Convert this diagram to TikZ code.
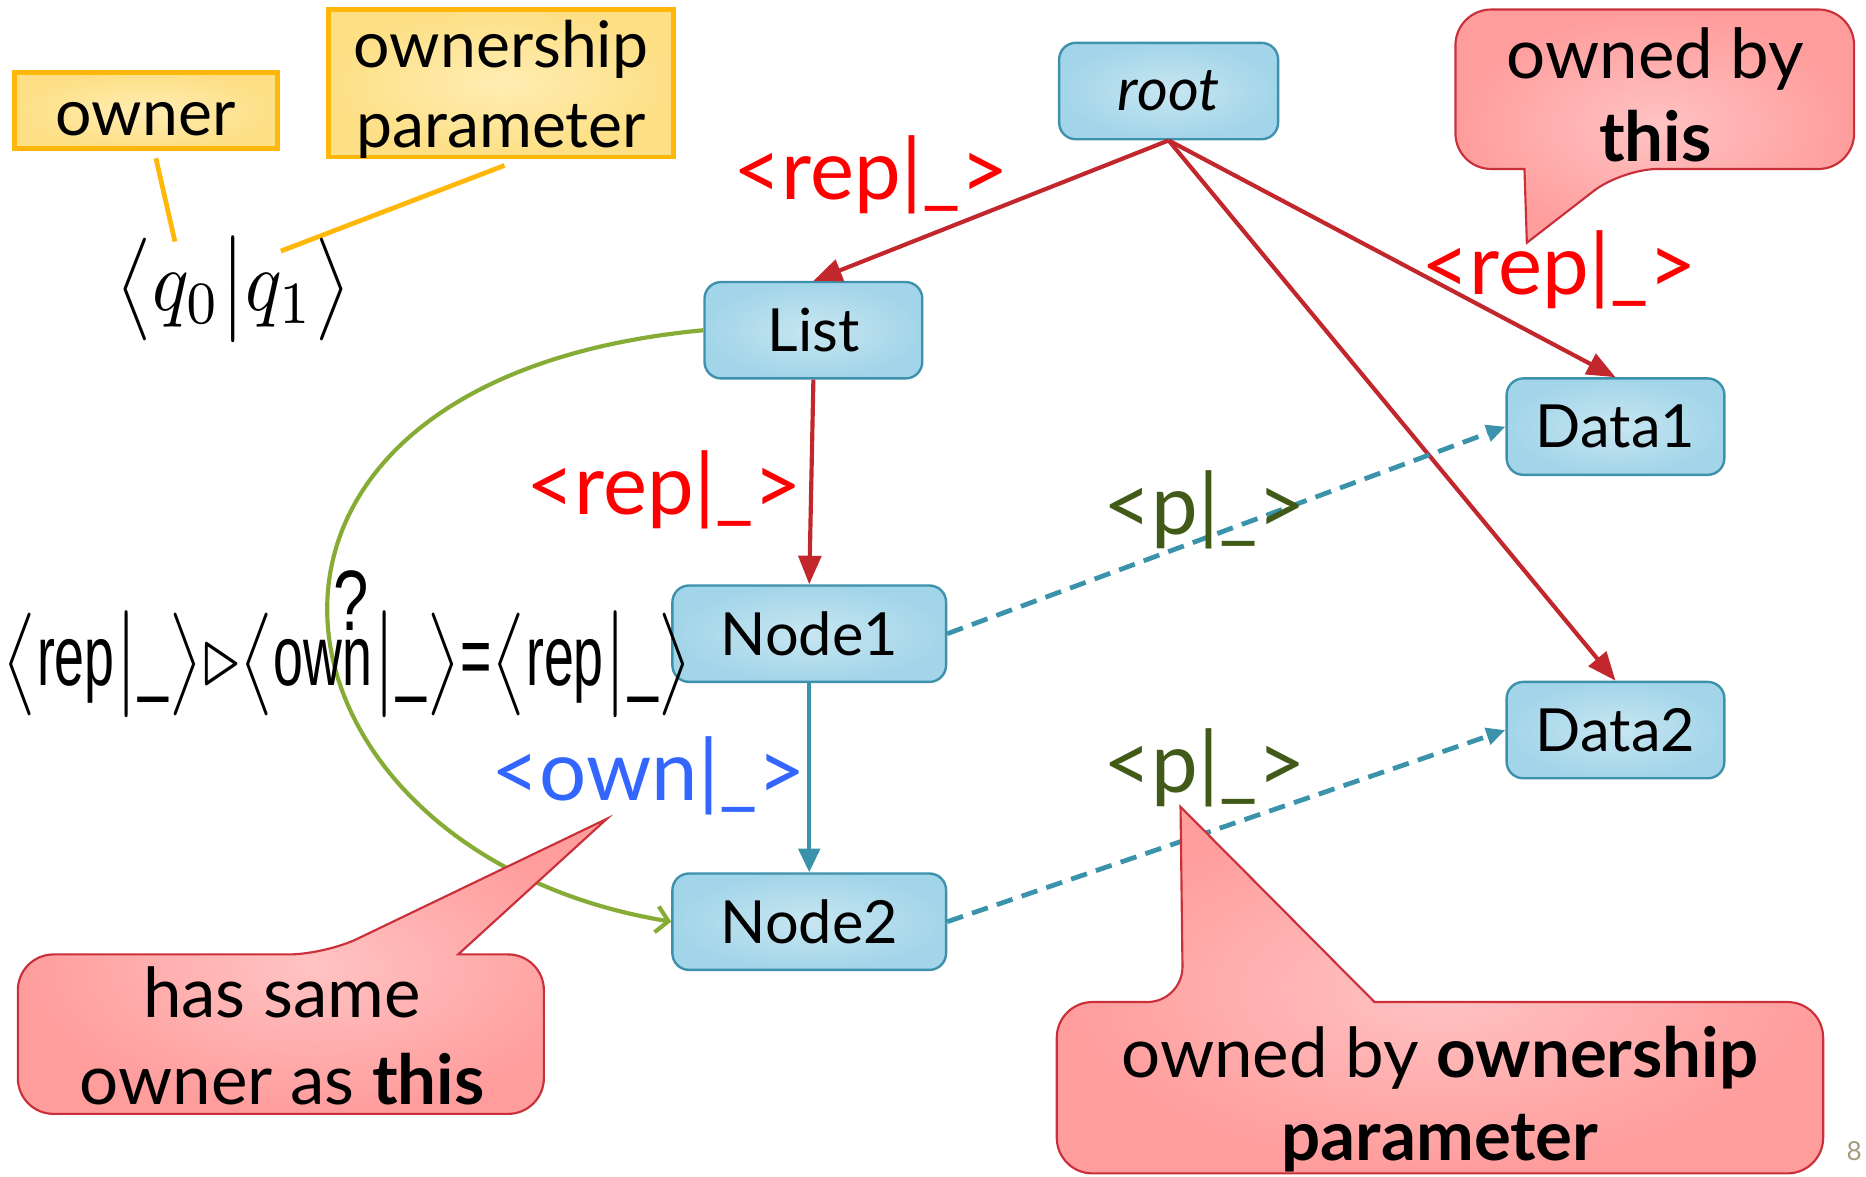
\documentclass[tikz,border=0pt]{standalone}
\usepackage{graphicx}
\usepackage[no-math]{fontspec}
\setmainfont{Lato}
\newfontfamily\narrowfont[FakeStretch=0.74]{Liberation Sans}
\usetikzlibrary{arrows.meta}
\definecolor{nodeborder}{HTML}{3E91AA}
\definecolor{nodein}{HTML}{C8E6F1}
\definecolor{nodeout}{HTML}{A2D5E9}
\definecolor{redline}{HTML}{C1272D}
\definecolor{tealline}{HTML}{3A93AB}
\definecolor{greenline}{HTML}{86AC36}
\definecolor{ybord}{HTML}{FFB80A}
\definecolor{yin}{HTML}{FFEDB3}
\definecolor{yout}{HTML}{FDDF85}
\definecolor{pinkin}{HTML}{FFC3C3}
\definecolor{pinkout}{HTML}{FF9C9C}
\definecolor{pinkbord}{HTML}{C9303A}
\definecolor{labred}{HTML}{FF0000}
\definecolor{labblue}{HTML}{3366FF}
\definecolor{labolive}{HTML}{425A17}
\definecolor{pagecol}{HTML}{A59B7F}
\tikzset{
  box/.style={draw=nodeborder, line width=1pt, rounded corners=7pt, inner color=nodein, outer color=nodeout,
    minimum height=40.5pt, font=\fontsize{25}{30}\selectfont, text=black},
  rededge/.style={draw=redline, line width=1.75pt, -{Triangle[length=12pt,width=9.5pt]}},
  tealedge/.style={draw=tealline, line width=1.75pt, -{Triangle[length=10pt,width=9pt]}},
  dashedge/.style={draw=tealline, line width=2pt, dash pattern=on 7pt off 4pt, -{Triangle[length=8pt,width=7pt]}},
  greenedge/.style={draw=greenline, line width=1.75pt, -{Straight Barb[length=5pt,width=11pt]}},
  lab/.style={font=\fontsize{35}{42}\selectfont, inner sep=0pt},
  ybox/.style={draw=ybord, line width=2pt, inner color=yin, outer color=yout},
  ytext/.style={font=\fontsize{27}{33}\selectfont, inner sep=0pt, anchor=base},
  yline/.style={draw=ybord, line width=2pt},
  callout/.style={draw=pinkbord, line width=0.9pt, inner color=pinkin, outer color=pinkout},
  ctext/.style={font=\fontsize{29}{35}\selectfont, inner sep=0pt, anchor=base},
}
\newcommand{\nw}[1]{\mbox{\narrowfont #1}}
\newcommand{\tallstrut}{\rule[-3.3pt]{0pt}{8.4pt}}
\newcommand{\nosp}{\thinmuskip=0mu\medmuskip=0mu\thickmuskip=0mu}
\begin{document}
\begin{tikzpicture}[x=0.5pt,y=-0.5pt]
\useasboundingbox (0,0) rectangle (1568,989);

% nodes
\node[box, minimum width=92pt] (root) at (982,76.5) {\itshape root};
\node[box, minimum width=91.5pt] (list) at (683.5,277.5) {List};
\node[box, minimum width=115pt] (n1) at (680,532.5) {Node1};
\node[box, minimum width=115pt] (n2) at (680,774.5) {Node2};
\node[box, minimum width=91.5pt] (d1) at (1357.5,358.5) {Data1};
\node[box, minimum width=91.5pt] (d2) at (1357.5,613.5) {Data2};

% edges
\draw[rededge] (root.south) -- (list.north);
\draw[rededge] (root.south) -- (d1.north);
\draw[rededge] (root.south) -- (d2.north);
\draw[rededge] (list.south) -- (n1.north);
\draw[tealedge] (n1.south) -- (n2.north);
\draw[dashedge] (n1.east) -- (d1.west);
\draw[dashedge] (n2.east) -- (d2.west);
\draw[greenedge] (list.west) .. controls (140,320) and (210,716) .. (n2.west);

% edge labels
\node[lab, text=labred] (lrep1) at (732,147) {<rep|\_>};
\node[lab, text=labred] (lrep2) at (1310,227) {<rep|\_>};
\node[lab, text=labred] (lrep3) at (558,412) {<rep|\_>};
\node[lab, text=labblue] (lown) at (545,652) {<own|\_>};
\node[lab, text=labolive] (lp1) at (1012,428) {<p|\_>};
\node[lab, text=labolive] (lp2) at (1012,645) {<p|\_>};

% yellow boxes
\node[ybox, minimum width=110.5pt, minimum height=32pt] (owner) at (122.5,93) {};
\node[ytext] (ownertext) at (122.5,114) {owner};
\node[ybox, minimum width=145pt, minimum height=62pt] (opar) at (421,70) {};
\node[ytext] (opart1) at (421,57) {ownership};
\node[ytext] (opart2) at (421,124) {parameter};
\coordinate (ya1) at (131,133);
\coordinate (ya2) at (147,203);
\coordinate (yb1) at (424,139);
\coordinate (yb2) at (236,211);
\draw[yline] (ya1) -- (ya2);
\draw[yline] (yb1) -- (yb2);

% formulas
\node[inner sep=0pt] (qform) at (196,243)
  {\scalebox{3.2}[3.6]{$\nosp\left\langle\tallstrut q_0 \middle| q_1 \right\rangle$}};
\node[inner sep=0pt] (eq) at (292,558)
  {\scalebox{3.05}[3.6]{$\nosp\left\langle\tallstrut\nw{rep}\middle|\nw{\_}\right\rangle
    {\triangleright}
    \left\langle\tallstrut\nw{own}\middle|\nw{\_}\right\rangle
    \nw{=}
    \left\langle\tallstrut\nw{rep}\middle|\nw{\_}\right\rangle$}};
\node[font=\fontsize{36}{42}\selectfont\narrowfont, inner sep=0pt] (qmark) at (295,505) {?};

% callouts
\path[callout] (15,870) [rounded corners=15pt] -- (15,802) -- (273,802) [sharp corners] -- (510,688)
  -- (385,802) [rounded corners=15pt] -- (457,802) -- (457,936) -- (15,936) -- cycle;
\node[ctext] (c1a) at (237,855) {has same};
\node[ctext] (c1b) at (237,928) {owner as \textbf{this}};

\path[callout] (1558,75) [rounded corners=15pt] -- (1558,142) -- (1363,142) [sharp corners] -- (1283,204)
  -- (1281,142) [rounded corners=15pt] -- (1223,142) -- (1223,8) -- (1558,8) -- cycle;
\node[ctext] (c2a) at (1391,66) {owned by};
\node[ctext] (c2b) at (1391,136) {\textbf{this}};

\path[callout] (888,914) [rounded corners=15pt] -- (888,842) -- (994,842) [sharp corners] -- (992,678)
  -- (1155,842) [rounded corners=15pt] -- (1532,842) -- (1532,986) -- (888,986) -- cycle;
\node[ctext] (c3a) at (1210,905) {owned by \textbf{ownership}};
\node[ctext] (c3b) at (1210,975) {\textbf{parameter}};

\node[text=pagecol, font=\fontsize{11}{13}\selectfont, inner sep=0pt] (pg) at (1558,967) {8};
\end{tikzpicture}
\end{document}
